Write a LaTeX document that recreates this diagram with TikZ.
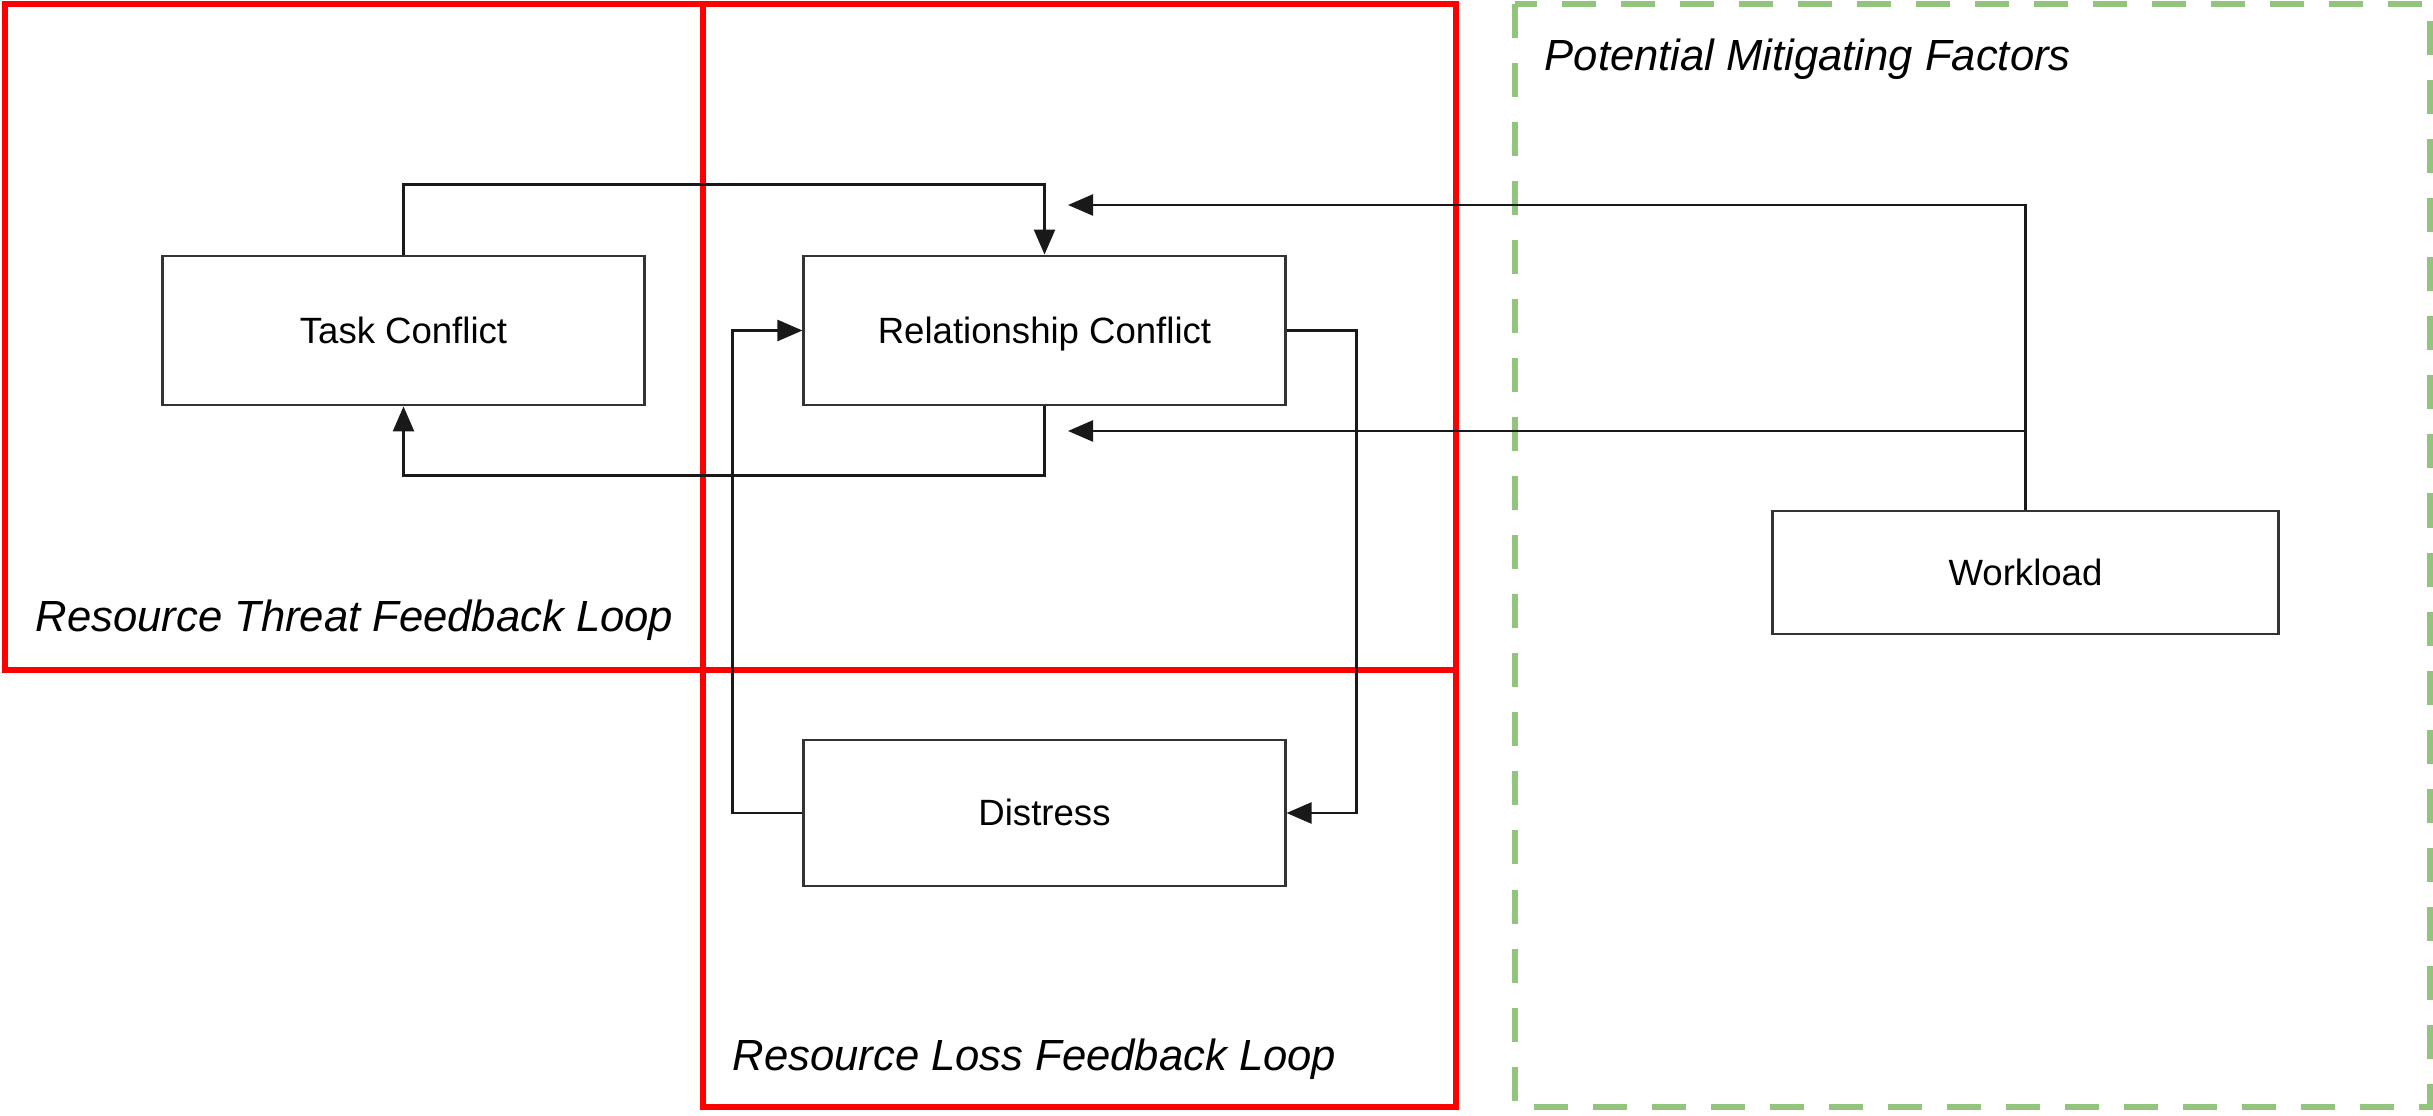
\documentclass[tikz,border=0pt]{standalone}
\usepackage{fontspec}
\setmainfont{Liberation Sans}
\usetikzlibrary{arrows.meta}
\definecolor{loopred}{HTML}{FF0000}
\definecolor{mitgreen}{HTML}{93C47D}
\definecolor{boxgray}{HTML}{333333}
\begin{document}
\begin{tikzpicture}[x=0.01cm,y=-0.01cm,
  concept/.style={draw=boxgray, line width=0.8pt, minimum width=4.81cm, minimum height=1.49cm, inner sep=0pt, text height=0.73em, text depth=0em, font=\fontsize{10.4}{12}\selectfont},
  link/.style={line width=0.7pt, draw=black!90},
  tip/.style={-{Triangle[length=0.25cm,width=0.21cm]}},
  loopframe/.style={draw=loopred, line width=1.5pt},
  mitframe/.style={draw=mitgreen, line width=1.6pt, dash pattern=on 0.34cm off 0.25cm},
  looplabel/.style={font=\fontsize{12.4}{14}\selectfont\itshape, anchor=base west, inner sep=0pt}]

\useasboundingbox (0,0) rectangle (2433,1116);
\fill[white] (0,0) rectangle (2433,1116);

% frames
\draw[loopframe] (5,4) rectangle (1456,670);
\draw[loopframe] (703,4) rectangle (1456,1107);
\draw[mitframe] (1515,4) rectangle (2430,1107);

% boxes
\node[concept] (task) at (403.5,330.5) {Task Conflict};
\node[concept] (rel) at (1044.5,330.5) {Relationship Conflict};
\node[concept, minimum height=1.46cm] (dis) at (1044.5,813) {Distress};
\node[concept, minimum width=5.06cm, minimum height=1.23cm] (work) at (2025.5,572.5) {Workload};

% free ends of the workload connectors
\coordinate (wtop) at (1068,205);
\coordinate (wmid) at (1068,431);

% connectors
\draw[link,tip] (task.north) -- ++(0,-70) -| (rel.north);
\draw[link,tip] (rel.south) -- ++(0,69) -| (task.south);
\draw[link,tip] (rel.east) -- ++(70,0) |- (dis.east);
\draw[link,tip] (dis.west) -- ++(-70,0) |- (rel.west);
\draw[link,tip] (work.north) |- (wtop);
\draw[link,tip] (work.north) |- (wmid);

% labels
\node[looplabel] (lthreat) at (35,632) {Resource Threat Feedback Loop};
\node[looplabel] (lloss) at (732,1070) {Resource Loss Feedback Loop};
\node[looplabel] (lmit) at (1544,71) {Potential Mitigating Factors};
\end{tikzpicture}
\end{document}
